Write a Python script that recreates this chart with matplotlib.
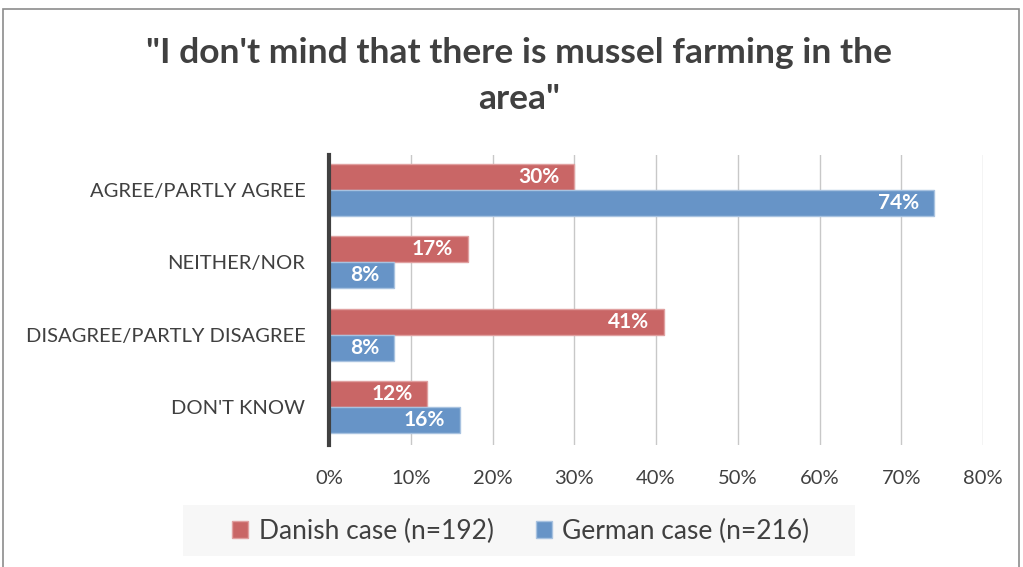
import numpy as np
import matplotlib.pyplot as plt
from matplotlib.patches import Rectangle

categories = ["AGREE/PARTLY AGREE", "NEITHER/NOR", "DISAGREE/PARTLY DISAGREE", "DON'T KNOW"]
danish = [30, 17, 41, 12]
german = [74, 8, 8, 16]
series_names = ["Danish case (n=192)", "German case (n=216)"]
title = "\"I don't mind that there is mussel farming in the\narea\""

red = "#c96666"
blue = "#6794c7"
text_col = "#404040"

plt.rcParams['font.family'] = ['Lato', 'DejaVu Sans']

fig = plt.figure(figsize=(10.23, 5.67), dpi=100)
# outer chart border
fig.patches.append(Rectangle((3 / 1023, -0.1), 1016 / 1023, 1 - 9 / 567 + 0.1,
                             transform=fig.transFigure, fill=False,
                             edgecolor="#8c8c8c", linewidth=1.2))
# legend background box
fig.patches.append(Rectangle((183 / 1023, 11 / 567), 672 / 1023, 51 / 567,
                             transform=fig.transFigure, facecolor="#f7f7f7",
                             edgecolor="none", zorder=0))

ax = fig.add_axes([329 / 1023, 122 / 567, 654 / 1023, 290 / 567])

y = np.arange(len(categories))
h = 0.36
b1 = ax.barh(y - h / 2, danish, height=h, color=red, edgecolor="#e0a0a0", linewidth=1, label=series_names[0], zorder=3)
b2 = ax.barh(y + h / 2, german, height=h, color=blue, edgecolor="#a8c2e0", linewidth=1, label=series_names[1], zorder=3)

for bars, vals in [(b1, danish), (b2, german)]:
    for bar, v in zip(bars, vals):
        ax.text(v - 1.8, bar.get_y() + bar.get_height() / 2, f"{v}%", ha="right", va="center",
                color="white", fontsize=15, fontweight="bold", zorder=4)

ax.set_xlim(0, 80)
ax.set_ylim(3.52, -0.48)
ax.set_xticks(np.arange(0, 81, 10))
ax.set_xticklabels([f"{t}%" for t in range(0, 81, 10)])
ax.set_yticks(y)
ax.set_yticklabels(categories)
ax.tick_params(axis="both", length=0, labelsize=14.5, colors=text_col)
ax.tick_params(axis="x", pad=18)
ax.tick_params(axis="y", pad=17)
ax.grid(axis="x", color="#c8c8c8", linewidth=1, zorder=0)
for s in ["top", "right", "bottom"]:
    ax.spines[s].set_visible(False)
ax.spines["left"].set_color("#404040")
ax.spines["left"].set_linewidth(3)
ax.spines["left"].set_zorder(5)

fig.text(519 / 1023, 1 - 76 / 567, title, ha="center", va="center", fontsize=25.5,
         fontweight="bold", color=text_col, linespacing=1.55)

leg = fig.legend(loc="center", bbox_to_anchor=(521 / 1023, 36 / 567), ncol=2, fontsize=19,
                 frameon=False, handlelength=0.6, handleheight=0.6, handletextpad=0.4,
                 columnspacing=1.6, borderpad=0.5, borderaxespad=0, labelcolor=text_col)

fig.savefig("out.png", dpi=100)
